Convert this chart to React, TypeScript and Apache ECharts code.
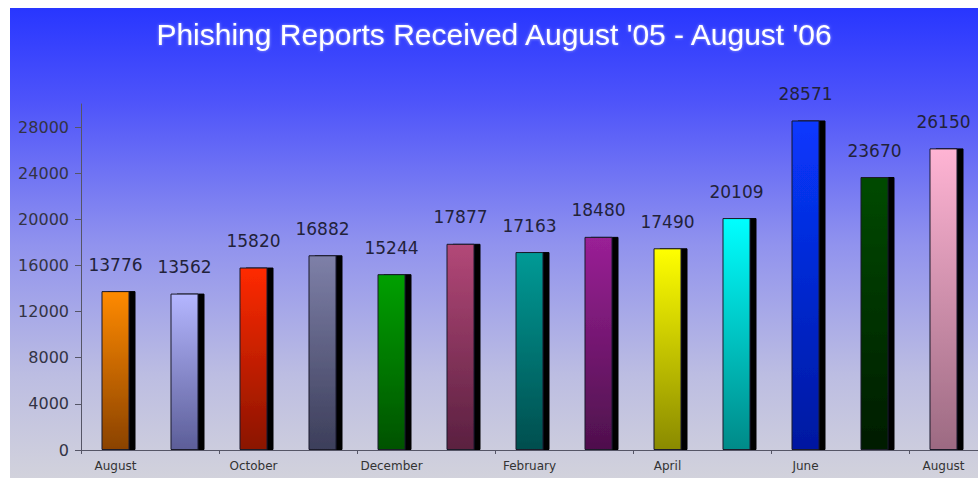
import React, { useEffect, useRef } from "react";
import * as echarts from "echarts";

const months = [
  "August", "September", "October", "November", "December", "January",
  "February", "March", "April", "May", "June", "July", "August",
];
const reports = [13776, 13562, 15820, 16882, 15244, 17877, 17163, 18480, 17490, 20109, 28571, 23670, 26150];
const yTicks = [0, 4000, 8000, 12000, 16000, 20000, 24000, 28000];
const barTop = ["#ff8a00", "#b4b6ff", "#ff2a00", "#7e80a8", "#00a000", "#b34878", "#009a96", "#9a2096", "#ffff00", "#00ffff", "#0838ff", "#004a00", "#ffb4d4"];
const barBottom = ["#8a4200", "#5c5e98", "#8a1400", "#3c3e5a", "#005200", "#5a2040", "#004e4e", "#4e104c", "#8a8a00", "#008a88", "#0018a0", "#001c00", "#9c6a82"];
const titleText = "Phishing Reports Received August '05 - August '06";

export default function App() {
  const ref = useRef<HTMLDivElement>(null);
  useEffect(() => {
    if (!ref.current) return;
    const chart = echarts.init(ref.current, null, { renderer: "svg" });
    chart.setOption({
      animation: false,
      backgroundColor: new echarts.graphic.LinearGradient(0, 0, 0, 1, [
        { offset: 0, color: "#2836ff" },
        { offset: 0.2, color: "#4e54fa" },
        { offset: 0.5, color: "#9092ee" },
        { offset: 0.78, color: "#bcbde2" },
        { offset: 1, color: "#d2d2dc" },
      ]),
      title: {
        text: titleText,
        left: "center",
        top: 6,
        textStyle: {
          color: "#ffffff",
          fontFamily: "Liberation Sans",
          fontWeight: "normal",
          fontSize: 30,
          textShadowColor: "rgba(255,255,255,0.5)",
          textShadowBlur: 3,
        },
      },
      grid: { left: 71, right: -7, top: 96, bottom: 28, containLabel: false },
      xAxis: {
        type: "category",
        data: months,
        axisLine: { lineStyle: { color: "#555566", width: 1 } },
        axisTick: { show: true, length: 4, lineStyle: { color: "#555566" } },
        axisLabel: {
          interval: 1,
          color: "#333333",
          fontFamily: "DejaVu Sans",
          fontSize: 12,
          margin: 10,
        },
      },
      yAxis: {
        type: "value",
        min: 0,
        max: 30000,
        interval: 4000,
        splitLine: { show: false },
        axisLine: { show: true, lineStyle: { color: "#555566", width: 1 } },
        axisTick: { show: true, length: 6, customValues: yTicks, lineStyle: { color: "#555566" } },
        axisLabel: {
          customValues: yTicks,
          formatter: (v: number) => String(v),
          color: "#333344",
          fontFamily: "DejaVu Sans",
          fontSize: 16,
          margin: 12,
        },
      },
      series: [
        {
          type: "bar",
          data: reports.map((v, i) => ({
            value: v,
            itemStyle: {
              color: new echarts.graphic.LinearGradient(0, 0, 0, 1, [
                { offset: 0, color: barTop[i] },
                { offset: 1, color: barBottom[i] },
              ]),
            },
          })),
          barWidth: 28,
          clip: false,
          itemStyle: {
            borderColor: "#1a1a2a",
            borderWidth: 1,
            shadowColor: "#000000",
            shadowOffsetX: 6,
            shadowOffsetY: 0,
            shadowBlur: 0,
          },
          label: {
            show: true,
            position: "top",
            distance: 18,
            color: "#22223a",
            fontFamily: "DejaVu Sans",
            fontSize: 17,
          },
        },
      ],
    });
    return () => chart.dispose();
  }, []);
  return (
    <div
      ref={ref}
      style={{ position: "fixed", left: 10, top: 8, width: 968, height: 470 }}
    />
  );
}
